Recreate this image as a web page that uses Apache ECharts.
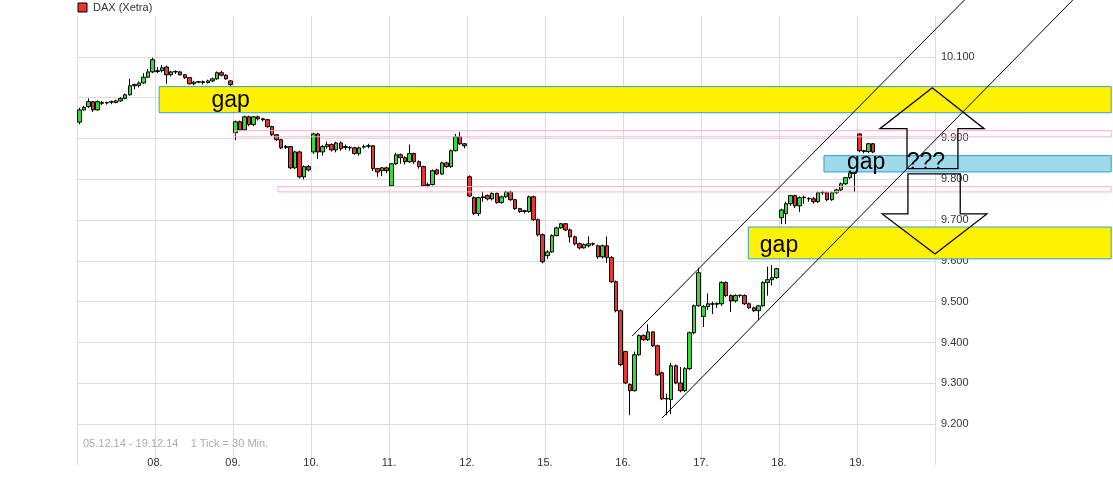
<!DOCTYPE html>
<html><head><meta charset="utf-8">
<script src="https://cdn.jsdelivr.net/npm/echarts@6/dist/echarts.min.js"></script>
<style>html,body{margin:0;padding:0;background:#fff}#c{width:1113px;height:499px}</style>
</head><body><div id="c"></div>
<script>
// [open, close, low, high] per 30-min tick
const candles = [
[9940,9970,9935,9975],[9970,9976,9968,9980],[9978,9990,9975,9998],[9990,9970,9965,9992],[9970,9990,9968,9993],[9986,9988,9982,9992],[9987,9988,9983,9990],[9989,9990,9984,9993],[9988,9992,9986,9995],[9992,9998,9989,10001],[9998,10007,9996,10010],[10007,10029,10005,10046],[10029,10032,10020,10034],[10030,10036,10025,10040],[10036,10050,10034,10060],[10050,10063,10048,10070],[10063,10093,10060,10098],
[10064,10066,10060,10075],[10066,10073,10062,10080],[10075,10056,10034,10078],[10056,10063,10052,10066],[10063,10064,10058,10067],[10063,10056,10054,10065],[10056,10049,10046,10058],[10049,10034,10032,10050],[10034,10038,10030,10041],[10038,10039,10035,10041],[10037,10039,10032,10042],[10037,10041,10035,10044],[10041,10046,10038,10049],[10046,10061,10044,10064],[10061,10055,10052,10066],[10055,10046,10044,10057],[10041,10032,10028,10043],
[9914,9941,9896,9944],[9941,9921,9918,9944],[9921,9953,9918,9956],[9953,9934,9930,9956],[9934,9953,9930,9955],[9953,9948,9944,9956],[9948,9946,9942,9950],[9946,9929,9926,9948],[9929,9909,9906,9931],[9909,9897,9894,9911],[9897,9877,9874,9899],[9878,9880,9874,9884],[9880,9828,9825,9882],[9828,9867,9825,9870],[9867,9806,9802,9870],[9806,9831,9800,9834],[9831,9823,9819,9835],
[9867,9911,9862,9914],[9911,9867,9850,9914],[9867,9880,9858,9884],[9880,9885,9875,9892],[9885,9872,9868,9888],[9872,9889,9866,9892],[9889,9875,9870,9893],[9878,9880,9872,9885],[9877,9878,9870,9881],[9877,9863,9860,9880],[9863,9877,9858,9880],[9879,9880,9875,9885],[9881,9882,9876,9887],[9882,9826,9820,9884],[9826,9818,9806,9828],[9821,9828,9808,9830],[9828,9821,9815,9831],
[9784,9838,9782,9840],[9838,9860,9835,9865],[9860,9853,9838,9863],[9853,9843,9836,9856],[9843,9863,9840,9885],[9863,9843,9838,9865],[9843,9831,9826,9846],[9831,9784,9782,9833],[9784,9787,9780,9792],[9787,9821,9785,9824],[9823,9813,9810,9826],[9813,9840,9811,9843],[9840,9831,9828,9843],[9831,9870,9828,9873],[9870,9904,9868,9911],[9904,9887,9884,9916],[9887,9882,9876,9889],
[9806,9759,9756,9810],[9755,9716,9712,9758],[9716,9755,9710,9757],[9755,9757,9745,9770],[9760,9752,9748,9763],[9752,9765,9748,9770],[9765,9743,9740,9768],[9743,9757,9740,9760],[9757,9769,9755,9772],[9769,9750,9747,9772],[9750,9728,9725,9752],[9728,9721,9718,9730],[9721,9723,9716,9725],[9721,9757,9718,9760],[9757,9701,9698,9760],[9701,9664,9660,9704],[9664,9598,9594,9667],
[9613,9622,9605,9626],[9622,9662,9620,9665],[9662,9681,9660,9684],[9681,9691,9679,9693],[9691,9676,9673,9693],[9676,9659,9645,9679],[9659,9642,9638,9662],[9642,9632,9628,9645],[9632,9640,9630,9643],[9637,9642,9633,9660],[9641,9642,9637,9645],[9637,9610,9605,9640],[9610,9637,9606,9640],[9637,9608,9595,9660],[9608,9549,9546,9612],[9549,9478,9474,9552],[9478,9346,9342,9481],
[9378,9301,9298,9380],[9297,9282,9222,9300],[9282,9370,9280,9378],[9370,9417,9368,9420],[9417,9407,9404,9420],[9407,9426,9404,9445],[9426,9392,9389,9428],[9392,9321,9318,9395],[9326,9262,9259,9329],[9262,9263,9222,9275],[9260,9343,9225,9350],[9343,9301,9298,9346],[9301,9282,9278,9340],[9282,9336,9279,9340],[9336,9424,9333,9427],[9424,9490,9420,9493],[9490,9571,9488,9583],
[9464,9488,9438,9492],[9488,9495,9480,9520],[9494,9495,9470,9500],[9494,9496,9485,9498],[9495,9547,9490,9550],[9547,9515,9512,9550],[9515,9502,9475,9518],[9502,9515,9498,9518],[9515,9516,9510,9518],[9515,9495,9492,9518],[9495,9485,9482,9498],[9485,9478,9475,9488],[9478,9490,9455,9492],[9490,9547,9488,9550],[9547,9554,9515,9586],[9554,9559,9540,9590],[9559,9581,9556,9583],
[9706,9725,9690,9728],[9716,9740,9690,9745],[9740,9760,9735,9762],[9760,9735,9730,9762],[9735,9755,9720,9758],[9755,9756,9740,9760],[9752,9753,9745,9756],[9752,9745,9740,9757],[9745,9767,9742,9770],[9767,9768,9762,9772],[9767,9750,9746,9770],[9750,9767,9747,9770],[9767,9774,9764,9777],[9774,9789,9771,9792],[9789,9804,9786,9806],[9804,9816,9800,9818],[9815,9816,9769,9818],
[9911,9870,9866,9913],[9870,9868,9864,9872],[9868,9887,9864,9889],[9887,9867,9864,9889]
];
const dayLabels = ['', '08.', '09.', '10.', '11.', '12.', '15.', '16.', '17.', '18.', '19.', ''];
const ticksPerDay = 17;
const totalSlots = 187;
// annotations in data units [slotX, value]
const gapBoxes = [ // [x0, x1, vTop, vBottom, fill]
  [17.9, 225.4, 10027, 9963, '#fff200'],
  [162.8, 225.4, 9858, 9818, '#9fd9ea'],
  [146.3, 225.4, 9683, 9605, '#fff200']
];
const pinkBoxes = [[34.4, 225.4, 9919, 9904], [43.8, 225.4, 9782, 9769]];
const channel = [[[121.0, 9416], [193.5, 10240]], [[127.5, 9215], [217.1, 10240]]];
const upArrow = [[180.9,9826],[180.9,9924],[175.0,9924],[186.4,10024],[197.7,9924],[192.0,9924],[192.0,9826]];
const downArrow = [[181.1,9813],[181.1,9715],[175.5,9715],[187.0,9617],[198.3,9715],[192.5,9715],[192.5,9813]];
const texts = [['gap', 33.5, 9992], ['gap', 172, 9840], ['???', 185, 9840], ['gap', 153, 9637]];

const chart = echarts.init(document.getElementById('c'));
const cats = candles.map((_, i) => i);
while (cats.length < totalSlots) cats.push(cats.length);
const FONT = 'Liberation Sans, Arial, sans-serif';
chart.setOption({
  animation: false,
  grid: {left: 77, right: 178, top: 16, bottom: 34},
  xAxis: [
    {type: 'category', data: cats, show: false, boundaryGap: true, position: 'top'},
    {type: 'value', position: 'bottom', min: 0, max: totalSlots, interval: ticksPerDay,
     axisLine: {show: false}, axisTick: {show: false},
     splitLine: {show: true, showMinLine: true, showMaxLine: true, lineStyle: {color: '#dcdcdc'}},
     axisLabel: {color: '#333', fontSize: 11, fontFamily: FONT, margin: -8,
       formatter: v => dayLabels[Math.round(v / ticksPerDay)] || ''}}
  ],
  yAxis: {type: 'value', position: 'right', min: 9100, max: 10200, interval: 100,
    axisLine: {show: false}, axisTick: {show: false},
    splitLine: {showMinLine: false, showMaxLine: false, lineStyle: {color: '#dcdcdc'}},
    axisLabel: {showMinLabel: false, showMaxLabel: false, color: '#333', fontSize: 11, fontFamily: FONT, margin: 6,
      formatter: v => (v / 1000).toFixed(3)}},
  series: [{type: 'candlestick', xAxisIndex: 0, barWidth: 4,
    data: candles.map(c => [c[0], c[1], c[2], c[3]]),
    itemStyle: {color: '#33dd33', color0: '#ee3333', borderColor: '#000', borderColor0: '#000', borderWidth: 1}}]
});
const P = p => chart.convertToPixel({xAxisIndex: 1, yAxisIndex: 0}, p);
const els = [];
pinkBoxes.forEach(b => {
  const a = P([b[0], b[2]]), c = P([b[1], b[3]]);
  els.push({type: 'rect', shape: {x: a[0], y: a[1], width: c[0] - a[0], height: c[1] - a[1]},
    style: {fill: 'none', stroke: '#ffb0c8', lineWidth: 1}, z: 10});
});
gapBoxes.forEach(b => {
  const a = P([b[0], b[2]]), c = P([b[1], b[3]]);
  els.push({type: 'rect', shape: {x: a[0], y: a[1], width: c[0] - a[0], height: c[1] - a[1]},
    style: {fill: b[4], stroke: '#2f9fd8', lineWidth: 1}, z: 11});
});
channel.forEach(l => {
  const a = P(l[0]), c = P(l[1]);
  els.push({type: 'line', shape: {x1: a[0], y1: a[1], x2: c[0], y2: c[1]}, style: {stroke: '#000', lineWidth: 1}, z: 12});
});
[upArrow, downArrow].forEach(ar => {
  els.push({type: 'polygon', shape: {points: ar.map(P)}, style: {fill: 'none', stroke: '#000', lineWidth: 1.3}, z: 13});
});
texts.forEach(t => {
  const a = P([t[1], t[2]]);
  els.push({type: 'text', x: a[0], y: a[1], style: {text: t[0], fill: '#000', font: '23px ' + FONT, align: 'center', verticalAlign: 'middle'}, z: 14});
});
els.push({type: 'rect', shape: {x: 78, y: 3, width: 9, height: 9}, style: {fill: '#ee3333', stroke: '#000', lineWidth: 1}, z: 20});
els.push({type: 'text', x: 93, y: 8, style: {text: 'DAX (Xetra)', fill: '#333', font: '11px ' + FONT, verticalAlign: 'middle'}, z: 20});
els.push({type: 'text', x: 83, y: 444, style: {text: '05.12.14 - 19.12.14    1 Tick = 30 Min.', fill: '#aaa', font: '11px ' + FONT, verticalAlign: 'middle'}, z: 20});
chart.setOption({graphic: {elements: els}});
</script></body></html>
